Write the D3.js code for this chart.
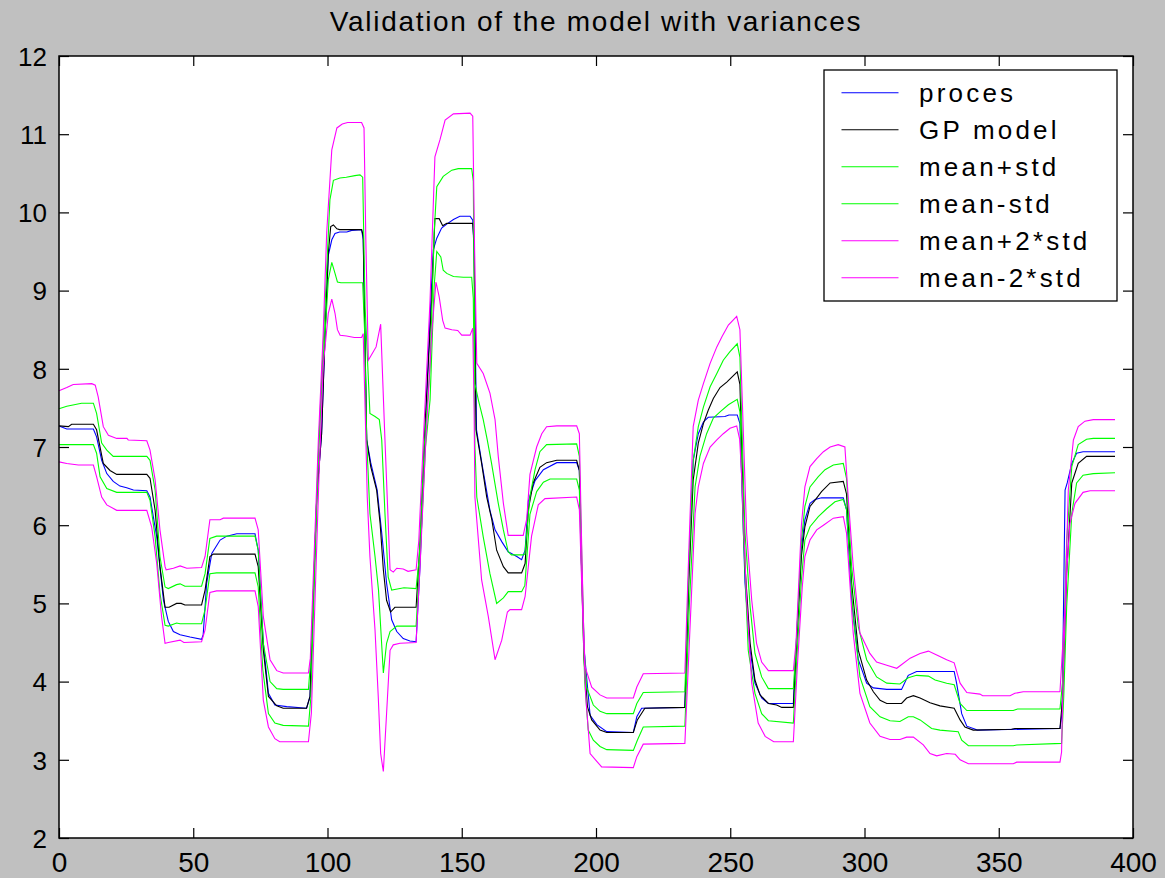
<!DOCTYPE html>
<html lang="en">
<head>
<meta charset="UTF-8">
<title>Validation of the model with variances</title>
<script src="https://d3js.org/d3.v7.min.js"></script>
<style>
    body {
        margin: 0;
        background: #c0c0c0;
        overflow: hidden;
    }
    svg text {
        font-family: "Liberation Sans", Arial, sans-serif;
        fill: #000;
    }
    .series {
        fill: none;
        stroke-width: 1.1px;
    }
</style>
</head>
<body>
<script>
// values, [sample, value]
const proces = [
    [0,7.27],[2.9,7.23],[12.8,7.23],[14.0,7.13],[15.9,6.83],[17.8,6.66],[20.2,6.56],[22.7,6.50],[25.2,6.48],[27.7,6.45],[32.7,6.44],
    [33.9,6.36],[36.4,5.85],[38.9,5.04],[40.7,4.77],[42.6,4.64],[45.1,4.60],[48.8,4.57],[53.1,4.54],[53.7,4.60],[55.0,5.26],[56.9,5.64],
    [60.0,5.81],[62.5,5.86],[66.2,5.89],[73,5.89],[74.2,5.68],[76.1,4.49],[78,3.85],[80.4,3.70],[84.8,3.68],[92.2,3.66],[93.5,3.81],
    [94.7,5.09],[96,6.36],[97.8,7.17],[99.1,8.45],[100.3,9.45],[101.6,9.65],[102.8,9.73],[104.5,9.75],[107.2,9.75],[109,9.77],[112.7,9.78],
    [113.3,9.65],[114.6,7.09],[116.1,6.8],[118.5,6.45],[120.2,5.90],[122,5.26],[123.9,4.79],[125.8,4.64],[128.2,4.55],[130.7,4.52],[133,4.51],
    [134.5,5.5],[136.5,7.3],[138.5,8.9],[139.4,9.52],[140.7,9.67],[142.5,9.80],[144.4,9.85],[146.9,9.91],[149.3,9.95],[153.1,9.95],[154.1,9.90],
    [154.6,9.5],[155.5,7.22],[157.5,6.79],[160.5,6.19],[162.4,5.94],[164.9,5.79],[167.3,5.66],[170.5,5.60],[172.3,5.56],[173.6,5.68],[174.8,6.31],
    [177.3,6.57],[180.4,6.71],[185.4,6.80],[192.8,6.80],[193.8,6.7],[194.6,5.5],[195.6,4.4],[197.8,3.57],[200.3,3.45],[204,3.36],[213.9,3.35],
    [215.2,3.55],[217,3.66],[233.1,3.67],[234.6,5.5],[236.2,6.83],[238.1,7.17],[240,7.32],[241.8,7.38],[248,7.39],[249.5,7.41],[252.6,7.41],
    [253.6,7.3],[255.5,5.26],[257.4,4.40],[259.2,3.98],[261.7,3.79],[264.2,3.72],[273.5,3.72],[274.6,4.5],[276.5,5.7],[277.8,6.07],[279.7,6.28],
    [281.6,6.33],[284,6.35],[292.1,6.35],[293.3,6.2],[295.2,5.04],[297.7,4.28],[300.8,3.98],[303.3,3.92],[308.3,3.90],[313.8,3.90],[316.3,4.08],
    [319.4,4.13],[333.4,4.13],[334.3,3.98],[336.2,3.59],[338.1,3.43],[340.5,3.40],[342,3.38],[372.8,3.40],[373.6,3.6],[374.7,6.45],[375.5,6.54],
    [377.2,6.79],[379,6.92],[381.4,6.94],[393.3,6.94]
];

const gpModel = [
    [0,7.27],[3.5,7.26],[4.7,7.29],[12.8,7.29],[14.0,7.22],[16.5,6.79],[19.0,6.70],[21.5,6.65],[32.7,6.65],[33.9,6.60],[35.8,6.19],[37.6,5.47],
    [39.5,4.95],[41,4.95],[43.8,5.00],[45.5,5.0],[46.9,4.98],[53.1,4.98],[54.4,5.17],[56.2,5.60],[57.5,5.63],[73,5.63],[74.2,5.47],[76.1,4.40],
    [78.0,3.81],[81.1,3.69],[83.5,3.66],[92.2,3.66],[93.5,3.81],[94.7,5.09],[96,6.36],[97.8,7.17],[99.1,8.45],[100.3,9.48],[101.2,9.82],[102.2,9.84],
    [103.5,9.79],[104.5,9.78],[112.7,9.78],[113.3,9.7],[114.6,7.09],[116.1,6.75],[118.3,6.45],[119.6,6.02],[120.8,5.43],[122,5.04],[123.5,4.89],
    [125.1,4.95],[133,4.95],[134.5,5.8],[136.5,7.4],[138.8,8.88],[140,9.92],[141.6,9.92],[142.9,9.83],[144.4,9.86],[154.1,9.86],[154.6,9.6],
    [155.3,7.22],[157.4,6.79],[159.3,6.36],[161.2,6.07],[163,5.68],[165.5,5.47],[167.3,5.39],[172.3,5.39],[173.6,5.51],[174.8,6.20],[176.6,6.54],
    [179.1,6.74],[181.6,6.80],[185.4,6.83],[192.8,6.83],[193.8,6.7],[194.6,5.5],[195.5,4.3],[196.8,3.68],[198.4,3.51],[201.5,3.38],[204,3.35],
    [213.9,3.35],[215.4,3.51],[218.2,3.66],[233.1,3.67],[234.6,5.3],[236.2,6.58],[238.1,7.05],[240,7.30],[241.8,7.47],[243.7,7.62],[246.2,7.76],
    [248.7,7.83],[252.6,7.96],[253.6,7.8],[255.5,5.47],[257.4,4.49],[259.2,4.02],[261.1,3.83],[264.2,3.72],[267.3,3.70],[269.2,3.67],[273.5,3.67],
    [274.6,4.4],[276.5,5.6],[277.8,5.98],[279.7,6.24],[281.6,6.32],[284,6.43],[287.2,6.54],[292.1,6.56],[293.3,6.4],[295.2,5.26],[297.7,4.40],
    [300.8,4.02],[303.3,3.87],[305.8,3.76],[308.3,3.72],[313.8,3.72],[315.7,3.79],[318.2,3.82],[320.7,3.79],[324.4,3.73],[328.1,3.69],[333.4,3.66],
    [335.6,3.51],[337.4,3.42],[340.5,3.38],[354.8,3.39],[356,3.40],[372.8,3.40],[373.8,3.8],[375.3,5.38],[377.2,6.54],[379.6,6.79],[382.7,6.88],
    [393.3,6.88]
];

const meanPlusStd = [
    [0,7.49],[2.9,7.52],[8.4,7.56],[12.8,7.56],[14.0,7.43],[15.9,7.05],[17.8,6.96],[20.2,6.88],[32.7,6.88],[33.9,6.83],[35.8,6.45],[37.6,5.60],
    [39.5,5.21],[40.7,5.19],[43.8,5.24],[45.1,5.25],[46.9,5.22],[53.1,5.22],[54.4,5.38],[56.2,5.83],[58.7,5.86],[73,5.86],[74.2,5.68],[76.1,4.49],
    [78.6,4.0],[81.1,3.91],[83.5,3.90],[92.9,3.90],[93.8,4.3],[96.8,7.1],[98.8,8.6],[100.9,10.16],[102.2,10.41],[104.6,10.44],[107,10.45],
    [110.2,10.47],[112.1,10.48],[113.1,10.45],[114,8.8],[115.8,7.43],[117.7,7.39],[119.3,7.35],[120.2,7.09],[121.4,6.15],[122.6,5.34],[123.9,5.17],
    [125.5,5.18],[128.5,5.20],[133,5.19],[134.2,5.6],[136,7.0],[138.2,8.03],[139.7,9.73],[140.7,10.33],[143.1,10.46],[146.3,10.54],[148.7,10.56],
    [153.7,10.56],[154.3,10.4],[154.9,7.81],[156.2,7.60],[158,7.35],[159.5,7.09],[161.1,6.79],[163.6,6.28],[165.5,5.94],[167.3,5.66],[168.5,5.62],
    [172.9,5.62],[173.5,5.63],[175.4,6.37],[177.3,6.71],[179.1,6.94],[181.6,7.03],[192.8,7.04],[193.8,6.88],[194.7,5.6],[195.6,4.4],[196.5,3.93],
    [199,3.70],[201.5,3.62],[204,3.59],[213.9,3.59],[215.2,3.72],[217.6,3.86],[233.1,3.87],[234.6,5.5],[236.2,6.83],[238.1,7.26],[240,7.51],
    [242.5,7.77],[245,7.94],[247.4,8.11],[249.9,8.22],[252.6,8.32],[253.6,8.15],[255.5,5.90],[257.4,4.96],[259.2,4.36],[261.7,4.06],[264.2,3.91],
    [273.5,3.91],[274.6,4.5],[276.5,5.8],[277.8,6.24],[279.7,6.49],[282.8,6.62],[285.3,6.71],[288.4,6.77],[292.1,6.79],[293.3,6.6],[295.2,5.47],
    [297.7,4.70],[300.8,4.28],[304.5,4.06],[308.3,3.98],[313.2,3.97],[316.3,4.05],[319.4,4.08],[323.8,4.07],[326.3,4.02],[330.6,3.98],[333.4,3.96],
    [335.6,3.72],[338.1,3.63],[355.4,3.63],[357,3.65],[372.8,3.65],[373.8,4.0],[375.3,5.81],[377.2,6.75],[379.6,7.03],[382.7,7.10],[385.2,7.11],
    [393.3,7.11]
];

const meanMinusStd = [
    [0,7.03],[12.8,7.03],[14.0,6.92],[15.3,6.62],[17.8,6.47],[21.5,6.42],[32.7,6.42],[33.9,6.32],[35.8,5.85],[37.6,5.13],[39.5,4.72],[40.7,4.71],
    [43.8,4.75],[45.1,4.74],[53.1,4.74],[54.4,4.92],[56.2,5.38],[58.7,5.39],[73,5.39],[74.2,5.21],[75.9,4.15],[78,3.59],[80.4,3.47],[83.5,3.44],
    [92.9,3.43],[93.8,3.8],[96.5,6.8],[98.2,8.0],[99.1,8.45],[100.3,9.14],[101.6,9.36],[102.8,9.22],[103.7,9.11],[105,9.10],[113.1,9.10],
    [113.8,8.5],[114.6,7.09],[115.8,6.15],[117.7,5.60],[119,5.17],[120.8,4.11],[122,4.49],[123.3,4.64],[125.8,4.71],[133,4.71],[134.5,5.6],
    [136.5,7.0],[138.2,7.60],[139.7,9.05],[140.7,9.50],[142.2,9.43],[143.1,9.26],[144.4,9.22],[146.9,9.18],[150.6,9.17],[153.7,9.17],[154.3,8.9],
    [154.9,7.0],[155.6,6.36],[158,5.85],[160.5,5.38],[163,5.00],[165.5,5.07],[167.3,5.15],[172.3,5.15],[173.5,5.23],[175.4,6.14],[177.9,6.43],
    [180.4,6.55],[182.9,6.59],[192.8,6.59],[193.8,6.45],[194.7,5.3],[195.8,4.0],[197.1,3.38],[199,3.25],[201.5,3.17],[204,3.13],[213.9,3.12],
    [215.4,3.25],[217.6,3.42],[233.1,3.43],[234.8,5.0],[236.9,6.49],[238.7,6.88],[241.2,7.17],[243.7,7.37],[246.2,7.45],[249.3,7.54],[252.6,7.61],
    [253.6,7.45],[254.9,5.90],[256.7,4.40],[259.2,3.85],[261.7,3.59],[264.2,3.50],[273.5,3.47],[274.8,4.3],[276.5,5.3],[277.8,5.81],[279.7,5.98],
    [282.8,6.11],[285.9,6.21],[289,6.30],[292.1,6.33],[293.3,6.2],[295.8,4.83],[298.3,4.06],[302,3.68],[305.8,3.55],[309.5,3.50],[313.2,3.49],
    [316.3,3.55],[318.2,3.55],[320.7,3.51],[325,3.40],[328.1,3.38],[334.9,3.36],[336.2,3.25],[338.7,3.18],[355.4,3.18],[356.7,3.19],[373.4,3.21],
    [374.2,3.8],[375.3,4.96],[377.2,6.15],[379,6.54],[381.4,6.64],[385.2,6.66],[393.3,6.67]
];

const meanPlus2Std = [
    [0,7.72],[2.9,7.76],[5.3,7.80],[12.2,7.81],[13.5,7.79],[14.6,7.64],[16.5,7.26],[18.4,7.15],[21.5,7.11],[25.3,7.11],[25.8,7.09],[32.7,7.08],
    [33.9,6.96],[35.8,6.58],[37.6,5.94],[39.5,5.47],[39.9,5.43],[42.6,5.45],[45.1,5.48],[47.6,5.45],[53.1,5.46],[54.4,5.60],[56.2,6.07],[60,6.07],
    [61.2,6.09],[73,6.09],[74.2,5.94],[76.1,4.83],[78.6,4.28],[81.1,4.14],[83.5,4.11],[92.9,4.11],[93.6,4.3],[96.6,7.09],[98.4,8.45],[99.7,9.74],
    [101.6,10.8],[103.5,11.08],[105.5,11.13],[107.5,11.15],[112.7,11.15],[113.6,11.08],[114.3,9.6],[115.2,8.11],[118.1,8.28],[119.8,8.57],
    [121.4,7.09],[123.3,5.43],[124.5,5.40],[125.8,5.45],[128.2,5.44],[130,5.41],[133,5.43],[134,5.8],[135.7,7.09],[138.2,8.88],[140,10.71],
    [141.9,10.93],[143.8,11.18],[146.9,11.26],[153.1,11.27],[154.1,11.23],[154.8,9.5],[155.6,8.07],[158,7.94],[160.5,7.69],[162.4,7.35],
    [163.6,6.88],[165.5,6.28],[167.3,5.87],[172.9,5.87],[174.2,6.08],[175.4,6.65],[177.9,7.0],[179.8,7.17],[181.6,7.26],[185.4,7.27],[192.8,7.27],
    [193.8,7.17],[194.5,6.0],[195.3,4.8],[195.9,4.19],[198.4,3.93],[201.5,3.83],[204,3.79],[213.9,3.79],[215.2,3.93],[217.6,4.10],[233.1,4.11],
    [234.5,5.6],[236.2,7.26],[238.1,7.60],[240,7.81],[242.5,8.07],[245,8.28],[246.9,8.41],[249.3,8.56],[252.4,8.67],[253.6,8.5],[254.9,7.17],
    [256.1,5.90],[258,5.04],[259.8,4.49],[261.7,4.25],[264.2,4.14],[273.5,4.14],[274.5,4.5],[276.5,6.0],[277.8,6.49],[279.7,6.75],[282.2,6.85],
    [284.7,6.94],[287.2,7.0],[290.2,7.03],[292.7,7.0],[294,6.32],[295.8,5.47],[298.3,4.62],[302,4.36],[304.5,4.25],[308.3,4.21],[312,4.17],
    [317,4.30],[320.7,4.36],[323.8,4.39],[326.9,4.34],[330.6,4.28],[333.4,4.24],[335.6,3.98],[338.1,3.86],[343,3.84],[344,3.82],[354.2,3.82],
    [356,3.85],[359.1,3.87],[372.8,3.87],[374.7,4.96],[375.9,6.45],[377.8,7.09],[379.6,7.26],[382.1,7.33],[385.2,7.35],[393.3,7.35]
];

const meanMinus2Std = [
    [0,6.81],[2.9,6.79],[7.2,6.77],[12.8,6.77],[14.0,6.62],[15.9,6.36],[17.8,6.26],[21.5,6.19],[32.7,6.19],[34.5,5.98],[36.4,5.51],[38.2,4.83],
    [39.5,4.49],[40.7,4.50],[45.1,4.53],[46.5,4.50],[53.1,4.51],[54.4,4.66],[56.2,5.14],[58.7,5.16],[73,5.16],[74.2,4.96],[76.1,3.76],[78,3.42],
    [80.4,3.27],[82.2,3.23],[92.9,3.23],[94,3.6],[96.8,6.6],[98.4,8.03],[100.3,8.71],[101.6,8.89],[102.8,8.71],[103.7,8.50],[104.7,8.43],
    [107.1,8.42],[110,8.40],[112.7,8.40],[113.3,8.45],[114.3,7.09],[114.8,6.36],[115.8,5.60],[117.7,4.66],[118.9,3.81],[119.8,3.08],[120.8,2.85],
    [122,3.59],[123.3,4.40],[124.5,4.47],[127,4.49],[133,4.50],[134.5,5.5],[136.5,7.0],[138.8,8.45],[140.4,9.11],[141.6,8.92],[142.9,8.62],
    [143.8,8.52],[146.3,8.50],[148.5,8.49],[150,8.43],[153.1,8.43],[154.1,8.52],[154.6,7.5],[154.9,6.36],[157.4,5.30],[159.9,4.83],[162.4,4.28],
    [164.9,4.53],[167,4.89],[168,4.92],[172.3,4.92],[173.6,5.09],[176,5.86],[178.5,6.26],[181,6.34],[192.8,6.36],[193.8,6.2],[194.9,5.0],
    [196.2,3.8],[197.8,3.08],[200.3,2.98],[202.1,2.91],[213.9,2.90],[215.2,3.04],[217.6,3.20],[233.1,3.21],[234.9,4.6],[236.9,6.15],[238.1,6.49],
    [240,6.79],[242.5,7.0],[245,7.09],[247.4,7.17],[249.9,7.24],[252.4,7.27],[253.5,7.1],[254.3,6.6],[256.1,5.04],[258,3.98],[260.4,3.47],
    [263,3.30],[266.2,3.23],[273.5,3.23],[275,4.2],[276.8,5.2],[277.8,5.60],[279.7,5.81],[282.2,5.94],[284.7,6.00],[288.4,6.09],[292.1,6.11],
    [293.3,5.9],[295.8,4.62],[298.3,3.85],[302,3.47],[305.8,3.30],[309.5,3.26],[313.2,3.26],[315.7,3.29],[318.2,3.29],[321.9,3.19],[324.4,3.08],
    [326.9,3.05],[330.6,3.08],[333.8,3.07],[335.6,3.0],[338.7,2.95],[355.4,2.95],[356.7,2.97],[372.8,2.97],[373.4,3.1],[374,4.11],[375.3,5.4],
    [376.5,6.02],[378.4,6.28],[381.4,6.42],[384,6.44],[393.3,6.44]
];

const seriesNames = ["proces", "GP model", "mean+std", "mean-std", "mean+2*std", "mean-2*std"];
const seriesColors = ["#0000ff", "#000000", "#00ff00", "#00ff00", "#ff00ff", "#ff00ff"];
const xTicks = [0, 50, 100, 150, 200, 250, 300, 350, 400];
const yTicks = [2, 3, 4, 5, 6, 7, 8, 9, 10, 11, 12];
const chartTitle = "Validation of the model with variances";

const allSeries = [proces, gpModel, meanPlusStd, meanMinusStd, meanPlus2Std, meanMinus2Std];

const width = 1165, height = 878;
const plotLeft = 59, plotRight = 1133, plotTop = 56, plotBottom = 838;

const svg = d3.select("body").append("svg")
    .attr("width", width)
    .attr("height", height);

svg.append("rect")
    .attr("width", width)
    .attr("height", height)
    .attr("fill", "#c0c0c0");

const x = d3.scaleLinear().domain([0, 400]).range([plotLeft, plotRight]);
const y = d3.scaleLinear().domain([2, 12]).range([plotBottom, plotTop]);

svg.append("rect")
    .attr("x", plotLeft).attr("y", plotTop)
    .attr("width", plotRight - plotLeft).attr("height", plotBottom - plotTop)
    .attr("fill", "#fff");

// lines, in plotting order
const line = d3.line().x(d => x(d[0])).y(d => y(d[1]));
const plot = svg.append("g");
allSeries.forEach((s, i) => {
    plot.append("path")
        .datum(s)
        .attr("class", "series")
        .attr("stroke", seriesColors[i])
        .attr("d", line);
});

// axes, ticks pointing inwards on all four sides
function styleAxis(g) {
    g.select(".domain").remove();
    g.selectAll(".tick line").attr("stroke", "#000").attr("stroke-width", 1.2);
}

svg.append("g")
    .attr("transform", `translate(0,${plotBottom})`)
    .call(d3.axisBottom(x).tickValues(xTicks).tickSize(-10).tickPadding(14.5).tickSizeOuter(0))
    .call(styleAxis)
    .call(g => g.selectAll("text").style("font-size", "28px"));

svg.append("g")
    .attr("transform", `translate(${plotLeft},0)`)
    .call(d3.axisLeft(y).tickValues(yTicks).tickSize(-10).tickPadding(12).tickSizeOuter(0))
    .call(styleAxis)
    .call(g => g.selectAll("text").style("font-size", "26px").attr("dy", "0.36em"));

svg.append("g")
    .attr("transform", `translate(0,${plotTop})`)
    .call(d3.axisTop(x).tickValues(xTicks).tickSize(-10).tickFormat("").tickSizeOuter(0))
    .call(styleAxis);

svg.append("g")
    .attr("transform", `translate(${plotRight},0)`)
    .call(d3.axisRight(y).tickValues(yTicks).tickSize(-10).tickFormat("").tickSizeOuter(0))
    .call(styleAxis);

svg.append("rect")
    .attr("x", plotLeft).attr("y", plotTop)
    .attr("width", plotRight - plotLeft).attr("height", plotBottom - plotTop)
    .attr("fill", "none")
    .attr("stroke", "#000")
    .attr("stroke-width", 1.5);

// title
svg.append("text")
    .attr("x", (plotLeft + plotRight) / 2)
    .attr("y", 31)
    .attr("text-anchor", "middle")
    .style("font-size", "28px")
    .style("letter-spacing", "1.7px")
    .text(chartTitle);

// legend
const legend = svg.append("g").attr("transform", "translate(824,70)");
legend.append("rect")
    .attr("width", 293).attr("height", 231)
    .attr("fill", "#fff")
    .attr("stroke", "#000")
    .attr("stroke-width", 1.3);

seriesNames.forEach((name, i) => {
    const cy = 22.7 + i * 37;
    legend.append("line")
        .attr("x1", 17.5).attr("x2", 74.5)
        .attr("y1", cy).attr("y2", cy)
        .attr("stroke", seriesColors[i])
        .attr("stroke-width", 1.1);
    legend.append("text")
        .attr("x", 95)
        .attr("y", cy + 9)
        .style("font-size", "26px")
        .style("letter-spacing", "3.2px")
        .text(name);
});
</script>
</body>
</html>
